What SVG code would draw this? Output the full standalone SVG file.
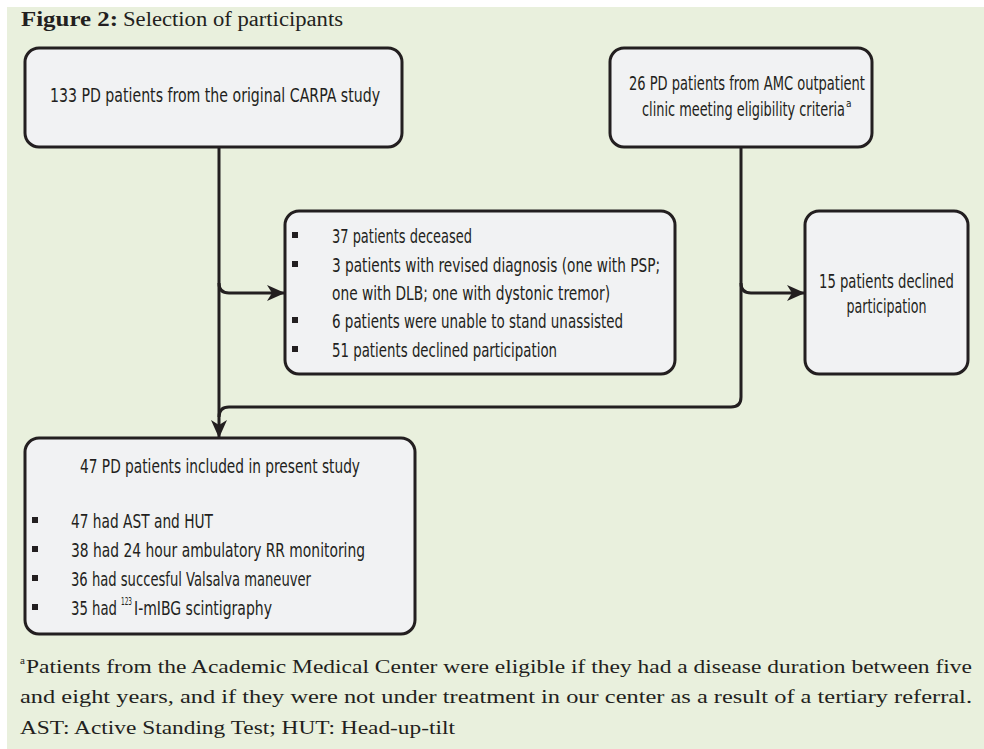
<svg xmlns="http://www.w3.org/2000/svg" width="984" height="749" viewBox="0 0 984 749">
  <style>
    .panel { fill: #e9f0dd; }
    .box { fill: #f1f2f3; stroke: #231f20; stroke-width: 3; }
    .lbl { font-family: "Liberation Sans Narrow", "DejaVu Sans Condensed", "Liberation Sans", sans-serif; font-size: 20px; fill: #231f20; }
    .sup { font-family: "Liberation Sans Narrow", "DejaVu Sans Condensed", "Liberation Sans", sans-serif; font-size: 10px; fill: #231f20; }
    .serif { font-family: "Liberation Serif", "Times New Roman", serif; font-size: 19px; fill: #231f20; }
    .title-b { font-family: "Liberation Serif", "Times New Roman", serif; font-size: 20px; font-weight: bold; fill: #231f20; }
    .title { font-family: "Liberation Serif", "Times New Roman", serif; font-size: 20px; fill: #231f20; }
    .fn-sup { font-family: "Liberation Serif", "Times New Roman", serif; font-size: 11px; fill: #231f20; }
    .bullet { fill: #231f20; }
    .conn { fill: none; stroke: #231f20; stroke-width: 3; }
  </style>
  <defs>
    <marker id="arrow" markerUnits="userSpaceOnUse" markerWidth="20" markerHeight="16" refX="18" refY="8" orient="auto">
      <path d="M0,0 L18,8 L0,16 L5,8 z" fill="#231f20"/>
    </marker>
  </defs>

  <!-- figure panel -->
  <rect class="panel" x="7" y="7" width="977" height="742"/>

  <!-- caption -->
  <text class="title-b" x="21" y="26" textLength="97" lengthAdjust="spacingAndGlyphs">Figure 2:</text>
  <text class="title" x="123" y="26" textLength="220" lengthAdjust="spacingAndGlyphs">Selection of participants</text>

  <!-- connectors -->
  <g id="connectors">
    <path class="conn" d="M219,147 V438" marker-end="url(#arrow)"/>
    <path class="conn" d="M219,283 Q219,293 229,293 H285" marker-end="url(#arrow)"/>
    <path class="conn" d="M741,147 V283 Q741,293 751,293 H805" marker-end="url(#arrow)"/>
    <path class="conn" d="M741,283 V397 Q741,407 731,407 H229 Q219,407 219,417"/>
  </g>

  <!-- original cohort -->
  <g id="node-carpa">
    <rect class="box" x="25" y="48" width="377" height="99" rx="14"/>
    <text class="lbl" x="50" y="102" textLength="330" lengthAdjust="spacingAndGlyphs">133 PD patients from the original CARPA study</text>
  </g>

  <!-- AMC cohort -->
  <g id="node-amc">
    <rect class="box" x="610" y="48" width="262" height="99" rx="14"/>
    <text class="lbl" x="629" y="90" textLength="236" lengthAdjust="spacingAndGlyphs">26 PD patients from AMC outpatient</text>
    <text class="lbl" x="642" y="116" textLength="203" lengthAdjust="spacingAndGlyphs">clinic meeting eligibility criteria</text>
    <text class="sup" x="846" y="107" font-size="9">a</text>
  </g>

  <!-- exclusions from CARPA cohort -->
  <g id="node-excluded">
    <rect class="box" x="285" y="211" width="390" height="163" rx="14"/>
    <rect class="bullet" x="292" y="232" width="6" height="6"/>
    <text class="lbl" x="332" y="243" textLength="140" lengthAdjust="spacingAndGlyphs">37 patients deceased</text>
    <rect class="bullet" x="292" y="261" width="6" height="6"/>
    <text class="lbl" x="332" y="272" textLength="328" lengthAdjust="spacingAndGlyphs">3 patients with revised diagnosis (one with PSP;</text>
    <text class="lbl" x="332" y="300" textLength="278" lengthAdjust="spacingAndGlyphs">one with DLB; one with dystonic tremor)</text>
    <rect class="bullet" x="292" y="317" width="6" height="6"/>
    <text class="lbl" x="332" y="328" textLength="291" lengthAdjust="spacingAndGlyphs">6 patients were unable to stand unassisted</text>
    <rect class="bullet" x="292" y="346" width="6" height="6"/>
    <text class="lbl" x="332" y="357" textLength="225" lengthAdjust="spacingAndGlyphs">51 patients declined participation</text>
  </g>

  <!-- AMC declined -->
  <g id="node-declined">
    <rect class="box" x="805" y="211" width="163" height="163" rx="14"/>
    <text class="lbl" x="886.5" y="288" text-anchor="middle" textLength="135" lengthAdjust="spacingAndGlyphs">15 patients declined</text>
    <text class="lbl" x="886.5" y="313" text-anchor="middle" textLength="80" lengthAdjust="spacingAndGlyphs">participation</text>
  </g>

  <!-- included patients -->
  <g id="node-included">
    <rect class="box" x="25" y="438" width="390" height="196" rx="14"/>
    <text class="lbl" x="80" y="473" textLength="280" lengthAdjust="spacingAndGlyphs">47 PD patients included in present study</text>
    <rect class="bullet" x="32" y="517" width="6" height="6"/>
    <text class="lbl" x="71" y="528" textLength="142" lengthAdjust="spacingAndGlyphs">47 had AST and HUT</text>
    <rect class="bullet" x="32" y="546" width="6" height="6"/>
    <text class="lbl" x="71" y="557" textLength="294" lengthAdjust="spacingAndGlyphs">38 had 24 hour ambulatory RR monitoring</text>
    <rect class="bullet" x="32" y="575" width="6" height="6"/>
    <text class="lbl" x="71" y="586" textLength="240" lengthAdjust="spacingAndGlyphs">36 had succesful Valsalva maneuver</text>
    <rect class="bullet" x="32" y="604" width="6" height="6"/>
    <text class="lbl" x="71" y="615" textLength="46" lengthAdjust="spacingAndGlyphs">35 had</text>
    <text class="sup" x="121" y="605" textLength="11" lengthAdjust="spacingAndGlyphs">123</text>
    <text class="lbl" x="134" y="615" textLength="138" lengthAdjust="spacingAndGlyphs">I-mIBG scintigraphy</text>
  </g>

  <!-- footnote -->
  <text class="fn-sup" x="20" y="664">a</text>
  <text class="serif" x="26" y="673" textLength="946" lengthAdjust="spacingAndGlyphs">Patients from the Academic Medical Center were eligible if they had a disease duration between five</text>
  <text class="serif" x="20" y="703" textLength="952" lengthAdjust="spacingAndGlyphs">and eight years, and if they were not under treatment in our center as a result of a tertiary referral.</text>
  <text class="serif" x="20" y="734" textLength="435" lengthAdjust="spacingAndGlyphs">AST: Active Standing Test; HUT: Head-up-tilt</text>
</svg>
